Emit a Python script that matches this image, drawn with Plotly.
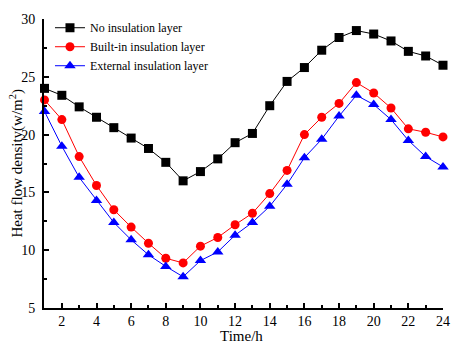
import plotly.graph_objects as go

hours = list(range(1, 25))
no_insulation = [24.0, 23.4, 22.4, 21.5, 20.6, 19.7, 18.8, 17.6, 16.0, 16.8, 17.9, 19.3,
                 20.1, 22.5, 24.6, 25.8, 27.3, 28.4, 29.0, 28.7, 28.1, 27.2, 26.8, 26.0]
built_in = [23.0, 21.3, 18.1, 15.6, 13.5, 12.0, 10.6, 9.3, 8.9, 10.35, 11.1, 12.2,
            13.2, 14.9, 16.9, 20.0, 21.5, 22.7, 24.5, 23.6, 22.3, 20.5, 20.2, 19.8]
external = [22.0, 19.0, 16.3, 14.3, 12.4, 10.9, 9.6, 8.6, 7.7, 9.1, 9.85, 11.3,
            12.4, 13.8, 15.7, 18.0, 19.6, 21.6, 23.4, 22.6, 21.3, 19.5, 18.1, 17.2]

series = [
    ("No insulation layer", no_insulation, "black", "square", 9),
    ("Built-in insulation layer", built_in, "red", "circle", 9),
    ("External insulation layer", external, "blue", "triangle-up", 10),
]

fig = go.Figure()
for name, vals, col, sym, sz in series:
    fig.add_trace(go.Scatter(x=hours, y=vals, mode="lines+markers", name=name,
                             line=dict(color=col, width=1),
                             marker=dict(color=col, symbol=sym, size=sz),
                             cliponaxis=False))

font = "Liberation Serif, Times New Roman, serif"
axis_common = dict(showline=True, linecolor="black", linewidth=2, showgrid=False,
                   zeroline=False, ticks="inside", ticklen=5, tickwidth=2,
                   tickcolor="black", automargin=False,
                   tickfont=dict(size=14, color="black", family=font))

fig.update_xaxes(range=[0.97, 24], tickvals=list(range(2, 25, 2)),
                 minor=dict(tickvals=list(range(3, 24, 2)), ticks="inside",
                            ticklen=3, tickwidth=2, tickcolor="black"),
                 ticklabelstandoff=-1, **axis_common)
fig.update_yaxes(range=[5, 30], tickvals=[5, 10, 15, 20, 25, 30],
                 minor=dict(tickvals=[7.5, 12.5, 17.5, 22.5, 27.5], ticks="inside",
                            ticklen=3, tickwidth=2, tickcolor="black"),
                 ticklabelstandoff=4, **axis_common)

# axis titles as annotations (page has an 8px body margin)
fig.add_annotation(text="Time/h", xref="paper", yref="paper", x=0.494, y=-0.098,
                   xanchor="center", yanchor="middle", showarrow=False,
                   font=dict(size=15, color="black", family=font))
fig.add_annotation(text="Heat flow density(w/m<sup>2</sup>)", xref="paper", yref="paper",
                   x=-0.07, y=0.5, textangle=-90, xanchor="center", yanchor="middle",
                   showarrow=False, font=dict(size=15, color="black", family=font))

fig.update_layout(
    width=451, height=337,
    margin=dict(l=36, r=16, t=5, b=37),
    plot_bgcolor="white", paper_bgcolor="white",
    font=dict(family=font, color="black"),
    legend=dict(x=0.015, y=1.02, xanchor="left", yanchor="top",
                bgcolor="rgba(0,0,0,0)", font=dict(size=12, family=font),
                itemwidth=30, tracegroupgap=0),
    showlegend=True,
)

fig.write_html("out.html")
